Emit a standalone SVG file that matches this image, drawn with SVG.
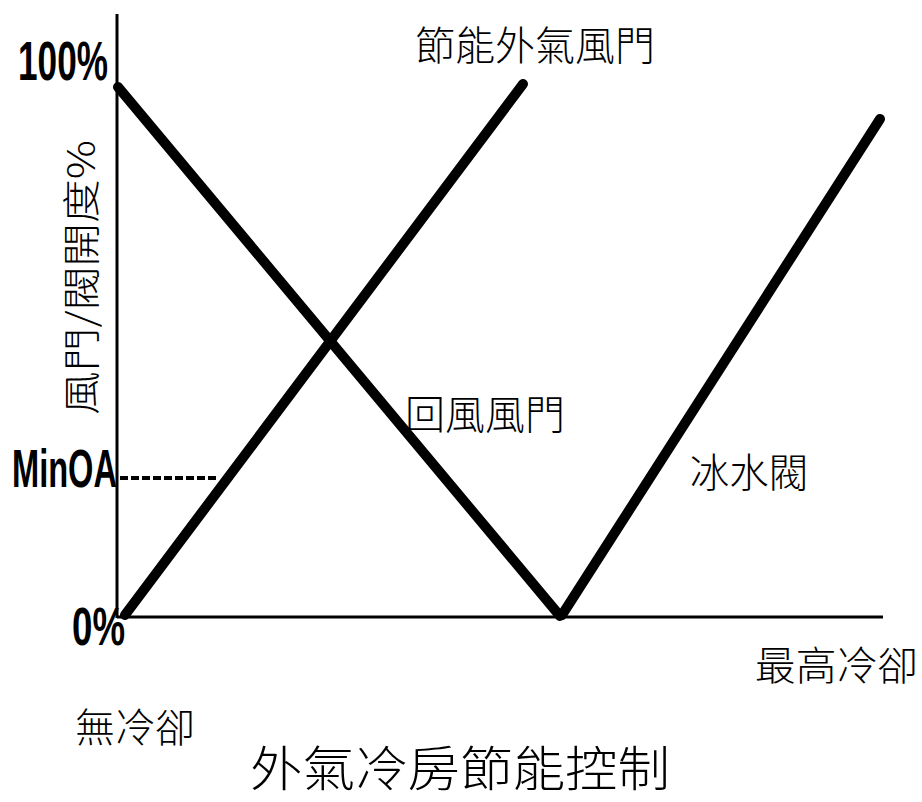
<svg xmlns="http://www.w3.org/2000/svg" width="922" height="802" viewBox="0 0 922 802">
<style>
.cjk{font-family:"Noto Sans CJK TC","Noto Sans CJK SC",sans-serif;font-weight:300;fill:#000}
.lat{font-family:"Liberation Sans",Arial,sans-serif;font-weight:bold;fill:#000}
.thick{stroke:#000;stroke-width:10;fill:none;stroke-linecap:round}
.axis{stroke:#000;stroke-width:3;fill:none}
</style>
<rect width="922" height="802" fill="#fff"/>
<g id="axes">
<line class="axis" x1="117" y1="14" x2="117" y2="618"/>
<line class="axis" x1="117" y1="617" x2="883" y2="617"/>
</g>
<g id="connectors">
<line id="return-damper" class="thick" x1="118" y1="87" x2="560" y2="616"/>
<line id="economizer-damper" class="thick" x1="125" y1="615" x2="523" y2="84"/>
<line id="chw-valve" class="thick" x1="562" y1="615" x2="880" y2="119"/>
<line id="minoa-dash" x1="120" y1="478" x2="216" y2="478" stroke="#000" stroke-width="4" stroke-dasharray="8,3"/>
</g>
<g id="labels">
<text class="lat" x="18" y="80" font-size="56" textLength="90" lengthAdjust="spacingAndGlyphs">100%</text>
<text class="lat" x="12" y="487" font-size="54" textLength="105" lengthAdjust="spacingAndGlyphs">MinOA</text>
<text class="lat" x="72" y="645" font-size="54" textLength="53" lengthAdjust="spacingAndGlyphs">0%</text>
<text class="cjk" transform="translate(95,415) rotate(-90)" font-size="38" textLength="275" lengthAdjust="spacingAndGlyphs">風門/閥開度%</text>
<text class="cjk" x="415" y="60" font-size="40" textLength="240" lengthAdjust="spacingAndGlyphs">節能外氣風門</text>
<text class="cjk" x="405" y="429" font-size="40" textLength="160" lengthAdjust="spacingAndGlyphs">回風風門</text>
<text class="cjk" x="690" y="487" font-size="40" textLength="118" lengthAdjust="spacingAndGlyphs">冰水閥</text>
<text class="cjk" x="755" y="680" font-size="40" textLength="163" lengthAdjust="spacingAndGlyphs">最高冷卻</text>
<text class="cjk" x="75" y="742" font-size="40" textLength="120" lengthAdjust="spacingAndGlyphs">無冷卻</text>
<text class="cjk" x="250" y="786" font-size="48" textLength="420" lengthAdjust="spacingAndGlyphs">外氣冷房節能控制</text>
</g>
</svg>
